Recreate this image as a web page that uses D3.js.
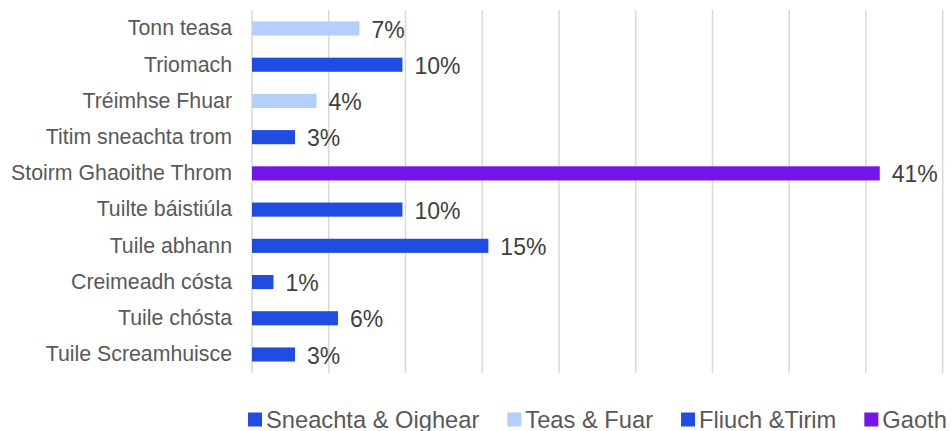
<!DOCTYPE html>
<html>
<head>
<meta charset="utf-8">
<script src="https://d3js.org/d3.v7.min.js"></script>
<style>
  body { margin: 0; background: #fff; }
  text { font-family: "Liberation Sans", Arial, sans-serif; }
</style>
</head>
<body>
<script>
// chart data, top to bottom
var categories = ["Tonn teasa", "Triomach", "Tréimhse Fhuar", "Titim sneachta trom",
  "Stoirm Ghaoithe Throm", "Tuilte báistiúla", "Tuile abhann", "Creimeadh cósta",
  "Tuile chósta", "Tuile Screamhuisce"];
var values = [0.070, 0.098, 0.042, 0.028, 0.409, 0.098, 0.154, 0.014, 0.056, 0.028];
var groups = ["Teas & Fuar", "Fliuch &Tirim", "Teas & Fuar", "Sneachta & Oighear",
  "Gaoth", "Fliuch &Tirim", "Fliuch &Tirim", "Fliuch &Tirim", "Fliuch &Tirim", "Fliuch &Tirim"];
var legendNames = ["Sneachta & Oighear", "Teas & Fuar", "Fliuch &Tirim", "Gaoth"];
var legendColors = ["#1f4de2", "#b4cffa", "#1f4de2", "#7315e8"];
var gridTicks = [0, 0.05, 0.10, 0.15, 0.20, 0.25, 0.30, 0.35, 0.40, 0.45];

var width = 951, height = 431;
var color = d3.scaleOrdinal().domain(legendNames).range(legendColors);

var svg = d3.select("body").append("svg")
  .attr("width", width)
  .attr("height", height);

var x = d3.scaleLinear().domain([0, 0.45]).range([252, 942.7]);
var y = d3.scaleBand().domain(categories).range([10.4, 372.6])
  .paddingInner(0.61).paddingOuter(0.305);

// gridlines
svg.append("g").selectAll("line")
  .data(gridTicks)
  .enter().append("line")
  .attr("x1", function(d) { return x(d); })
  .attr("x2", function(d) { return x(d); })
  .attr("y1", 10)
  .attr("y2", 373)
  .attr("stroke", "#d9d9d9")
  .attr("stroke-width", 1.5);

// category axis labels
var yAxis = d3.axisLeft(y).tickSize(0).tickPadding(20);
var ga = svg.append("g").attr("transform", "translate(252,0)").call(yAxis);
ga.select(".domain").remove();
ga.selectAll("text")
  .attr("fill", "#595959")
  .style("font-size", "21.3px")
  .style("font-family", "'Liberation Sans', Arial, sans-serif");

// bars
svg.append("g").selectAll("rect")
  .data(values)
  .enter().append("rect")
  .attr("x", x(0))
  .attr("y", function(d, i) { return y(categories[i]); })
  .attr("width", function(d) { return x(d) - x(0); })
  .attr("height", y.bandwidth())
  .attr("fill", function(d, i) { return color(groups[i]); });

// data labels
svg.append("g").selectAll("text")
  .data(values)
  .enter().append("text")
  .attr("x", function(d) { return x(d) + 12; })
  .attr("y", function(d, i) { return y(categories[i]) + y.bandwidth() / 2 + 1; })
  .attr("dy", "0.35em")
  .attr("fill", "#404040")
  .style("font-size", "23px")
  .text(function(d) { return d3.format(".0%")(d); });

// legend
var legend = svg.append("g");
var lx = 248;
legendNames.forEach(function(name, i) {
  legend.append("rect")
    .attr("x", lx)
    .attr("y", 412.5)
    .attr("width", 14)
    .attr("height", 14)
    .attr("fill", legendColors[i]);
  var t = legend.append("text")
    .attr("x", lx + 18)
    .attr("y", 428)
    .attr("fill", "#595959")
    .style("font-size", "23.7px")
    .text(name);
  lx += 18 + t.node().getComputedTextLength() + 28;
});
</script>
</body>
</html>
